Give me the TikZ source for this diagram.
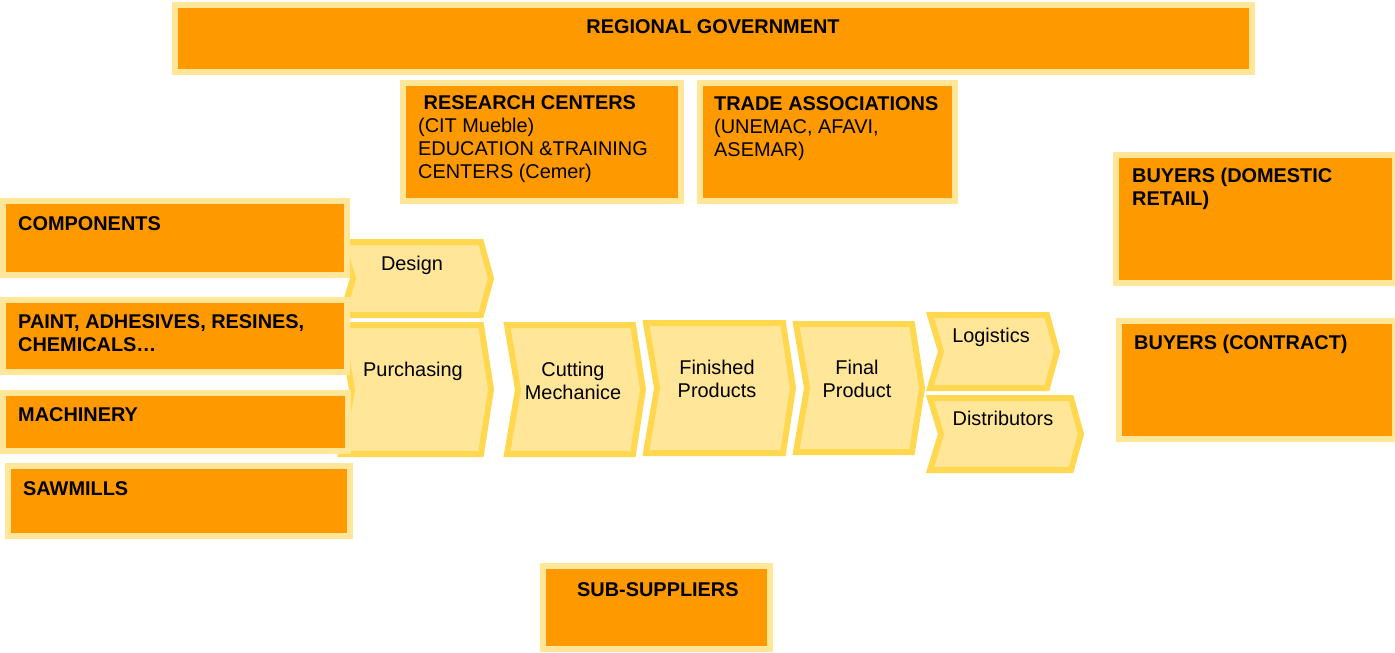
\documentclass[tikz,border=0pt]{standalone}
\usepackage{fontspec}
\setmainfont{Liberation Sans}

\definecolor{boxfill}{HTML}{FF9900}
\definecolor{boxrim}{HTML}{FFE699}
\definecolor{chevfill}{HTML}{FFE699}
\definecolor{chevrim}{HTML}{FFD84F}

% orange box given by its outer corners (x1,y1) and (x2,y2)
\newcommand\orangebox[5]{%
  \node[obox, minimum width={#4-#2-6}, minimum height={#5-#3-6}]
    (#1) at ({(#2+#4)/2},{(#3+#5)/2}) {};}
% process chevron given by its outer corners, notch and tip 12 deep
\newcommand\chevron[4]{%
  \path[chev] ({#1+4},{#2+3}) -- ({#3-14},{#2+3}) -- ({#3-4},{(#2+#4)/2})
    -- ({#3-14},{#4-3}) -- ({#1+4},{#4-3}) -- ({#1+15},{(#2+#4)/2}) -- cycle;}
\newcommand\fl{\rule{0pt}{15pt}}

\tikzset{
  obox/.style={draw=boxrim, fill=boxfill, line width=6pt, inner sep=0pt, outer sep=0pt},
  chev/.style={draw=chevrim, fill=chevfill, line width=6pt, line join=miter},
  btxt/.style={font=\bfseries\fontsize{19.9}{23}\selectfont, inner sep=0pt,
    anchor=north west, align=left},
  ntxt/.style={font=\fontsize{19.9}{23}\selectfont, inner sep=0pt,
    anchor=north, align=center},
}

\begin{document}
\begin{tikzpicture}[x=1pt, y=-1pt]
\useasboundingbox (0,0) rectangle (1395,653);

% value chain stages
\chevron{338}{239}{495}{318}
\chevron{337}{322}{495}{457}
\chevron{503}{322}{647}{457}
\chevron{642}{320}{797}{456}
\chevron{792}{321}{926}{455}
\chevron{926}{312}{1061}{391}
\chevron{926}{395}{1085}{473}

% surrounding actors
\orangebox{reg}{172}{2}{1255}{75}
\orangebox{res}{400}{80}{684}{204}
\orangebox{trade}{697}{80}{958}{204}
\orangebox{comp}{0}{198}{350}{278}
\orangebox{paint}{0}{297}{350}{375}
\orangebox{mach}{0}{390}{351}{454}
\orangebox{saw}{5}{463}{353}{539}
\orangebox{sub}{540}{563}{773}{652}
\orangebox{dom}{1113}{152}{1398}{286}
\orangebox{contract}{1116}{318}{1398}{442}

% actor labels
\node[ntxt, font=\bfseries\fontsize{19.9}{23}\selectfont] (regt) at (713,18) {\fl REGIONAL GOVERNMENT};
\node[btxt] (rest) at (418,94) {\fl\textbf{~RESEARCH CENTERS}\\\mdseries (CIT Mueble)\\\mdseries EDUCATION \&TRAINING\\\mdseries CENTERS (Cemer)};
\node[btxt] (tradet) at (714,95) {\fl TRADE ASSOCIATIONS\\\mdseries (UNEMAC, AFAVI,\\\mdseries ASEMAR)};
\node[btxt] (domt) at (1132,167) {\fl BUYERS (DOMESTIC\\RETAIL)};
\node[btxt] (contractt) at (1134,334) {\fl BUYERS (CONTRACT)};
\node[btxt] (compt) at (18,215) {\fl COMPONENTS};
\node[btxt] (paintt) at (18,313) {\fl PAINT, ADHESIVES, RESINES,\\CHEMICALS\dots};
\node[btxt] (macht) at (18,406) {\fl MACHINERY};
\node[btxt] (sawt) at (23,480) {\fl SAWMILLS};
\node[btxt] (subt) at (577,581) {\fl SUB-SUPPLIERS};

% stage labels
\node[ntxt] (design) at (412,255) {\fl Design};
\node[ntxt] (purch) at (413,361) {\fl Purchasing};
\node[ntxt] (cut) at (573,361) {\fl Cutting\\Mechanice};
\node[ntxt] (fin) at (717,359) {\fl Finished\\Products};
\node[ntxt] (final) at (857,359) {\fl Final\\Product};
\node[ntxt] (logi) at (991,327) {\fl Logistics};
\node[ntxt] (dist) at (1003,410) {\fl Distributors};
\end{tikzpicture}
\end{document}
